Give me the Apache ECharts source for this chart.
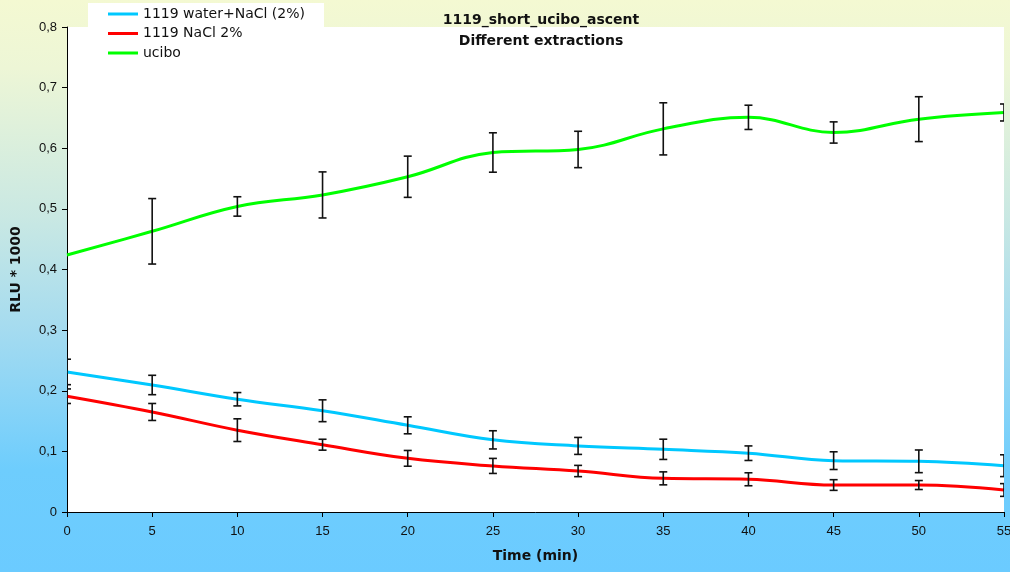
<!DOCTYPE html>
<html>
  <head>
    <meta charset="utf-8" />
    <title>1119_short_ucibo_ascent</title>
    <script src="https://cdn.jsdelivr.net/npm/echarts@6/dist/echarts.min.js"></script>
    <style>
      body { margin: 0; }
      #main { width: 1010px; height: 572px; }
    </style>
  </head>
  <body>
    <div id="main"></div>
    <script type="text/javascript">
// time points (min)
var times = [0, 5, 10, 15, 20, 25, 30, 35, 40, 45, 50, 55];

// mean values, RLU * 1000
var waterNaCl = [0.231, 0.2095, 0.186, 0.167, 0.143, 0.119, 0.109, 0.1034, 0.097, 0.0847, 0.0836, 0.0764];
var naCl = [0.191, 0.165, 0.135, 0.111, 0.0885, 0.076, 0.0676, 0.0555, 0.054, 0.0445, 0.0445, 0.0363];
var ucibo = [0.424, 0.463, 0.504, 0.523, 0.553, 0.593, 0.598, 0.632, 0.651, 0.626, 0.648, 0.659];

// error (+/-)
var waterNaClErr = [0.021, 0.016, 0.011, 0.018, 0.014, 0.015, 0.014, 0.0167, 0.012, 0.0146, 0.0187, 0.018];
var naClErr = [0.012, 0.014, 0.0187, 0.009, 0.013, 0.0124, 0.0093, 0.0107, 0.0107, 0.0088, 0.0074, 0.0105];
var uciboErr = [0, 0.054, 0.016, 0.038, 0.034, 0.0325, 0.03, 0.043, 0.02, 0.0175, 0.037, 0.014];

var names = ['1119 water+NaCl (2%)', '1119 NaCl 2%', 'ucibo'];
var colors = ['#00c8ff', '#ff0000', '#00ff00'];

var FONT = '"DejaVu Sans", Arial, sans-serif';
var TICKFONT = '"Liberation Sans", Arial, sans-serif';

function pairs(vals) {
  return times.map(function (t, i) { return [t, vals[i]]; });
}
function errs(vals, e) {
  var out = [];
  times.forEach(function (t, i) {
    if (e[i] > 0) out.push([t, vals[i] - e[i], vals[i] + e[i]]);
  });
  return out;
}

function renderErr(params, api) {
  var x = api.value(0);
  var lo = api.coord([x, api.value(1)]);
  var hi = api.coord([x, api.value(2)]);
  var w = 4;
  var st = { stroke: '#111', lineWidth: 1.6 };
  return {
    type: 'group',
    children: [
      { type: 'line', shape: { x1: lo[0], y1: lo[1], x2: hi[0], y2: hi[1] }, style: st },
      { type: 'line', shape: { x1: lo[0] - w, y1: lo[1], x2: lo[0] + w, y2: lo[1] }, style: st },
      { type: 'line', shape: { x1: hi[0] - w, y1: hi[1], x2: hi[0] + w, y2: hi[1] }, style: st }
    ]
  };
}

var chartDom = document.getElementById('main');
var myChart = echarts.init(chartDom);
var option;

var lineSeries = [waterNaCl, naCl, ucibo].map(function (vals, i) {
  return {
    name: names[i],
    type: 'line',
    data: pairs(vals),
    smooth: 0.4,
    symbol: 'none',
    lineStyle: { color: colors[i], width: 3 },
    itemStyle: { color: colors[i] },
    z: 2
  };
});
var errSeries = [[waterNaCl, waterNaClErr], [naCl, naClErr], [ucibo, uciboErr]].map(function (p) {
  return {
    type: 'custom',
    renderItem: renderErr,
    data: errs(p[0], p[1]),
    clip: true,
    silent: true,
    z: 3
  };
});

option = {
  animation: false,
  backgroundColor: {
    type: 'linear', x: 0, y: 0, x2: 0, y2: 1,
    colorStops: [
      { offset: 0, color: '#f4f9d2' },
      { offset: 0.12, color: '#edf6d6' },
      { offset: 0.38, color: '#c9e8e3' },
      { offset: 0.58, color: '#a4dbf0' },
      { offset: 0.82, color: '#6ecdfd' },
      { offset: 1, color: '#6bcbff' }
    ]
  },
  textStyle: { fontFamily: FONT },
  graphic: {
    elements: [
      {
        type: 'text',
        x: 541,
        y: 10,
        z: 10,
        style: {
          text: '1119_short_ucibo_ascent\nDifferent extractions',
          align: 'center',
          font: 'bold 14px ' + FONT,
          lineHeight: 21,
          fill: '#111'
        }
      }
    ]
  },
  legend: {
    orient: 'vertical',
    left: 88,
    top: 3,
    padding: [3, 19, 4, 20],
    backgroundColor: '#ffffff',
    data: names,
    icon: 'rect',
    itemWidth: 30,
    itemHeight: 3,
    itemGap: 3.5,
    textStyle: { fontSize: 14, color: '#111', lineHeight: 16, fontFamily: FONT }
  },
  grid: {
    left: 67,
    right: 6,
    top: 27,
    bottom: 60,
    containLabel: false,
    outerBoundsMode: 'none',
    show: true,
    backgroundColor: '#ffffff',
    borderWidth: 0
  },
  xAxis: {
    type: 'value',
    min: 0,
    max: 55,
    interval: 5,
    name: 'Time (min)',
    nameLocation: 'middle',
    nameGap: 37,
    nameTextStyle: { fontWeight: 'bold', fontSize: 14, color: '#111', fontFamily: FONT },
    axisLine: { lineStyle: { color: '#000', width: 1 } },
    axisTick: { length: 5, lineStyle: { color: '#000' } },
    axisLabel: { fontSize: 13, color: '#111', margin: 13, fontFamily: TICKFONT },
    splitLine: { show: false }
  },
  yAxis: {
    type: 'value',
    min: 0,
    max: 0.8,
    interval: 0.1,
    name: 'RLU * 1000',
    nameLocation: 'middle',
    nameGap: 44,
    nameTextStyle: { fontWeight: 'bold', fontSize: 14, color: '#111', fontFamily: FONT },
    axisLine: { show: true, lineStyle: { color: '#000', width: 1 } },
    axisTick: { show: true, length: 5, lineStyle: { color: '#000' } },
    axisLabel: {
      fontSize: 13,
      color: '#111',
      margin: 10,
      fontFamily: TICKFONT,
      formatter: function (v) {
        return v === 0 ? '0' : v.toFixed(1).replace('.', ',');
      }
    },
    splitLine: { show: false }
  },
  series: lineSeries.concat(errSeries)
};

myChart.setOption(option);
    </script>
  </body>
</html>
